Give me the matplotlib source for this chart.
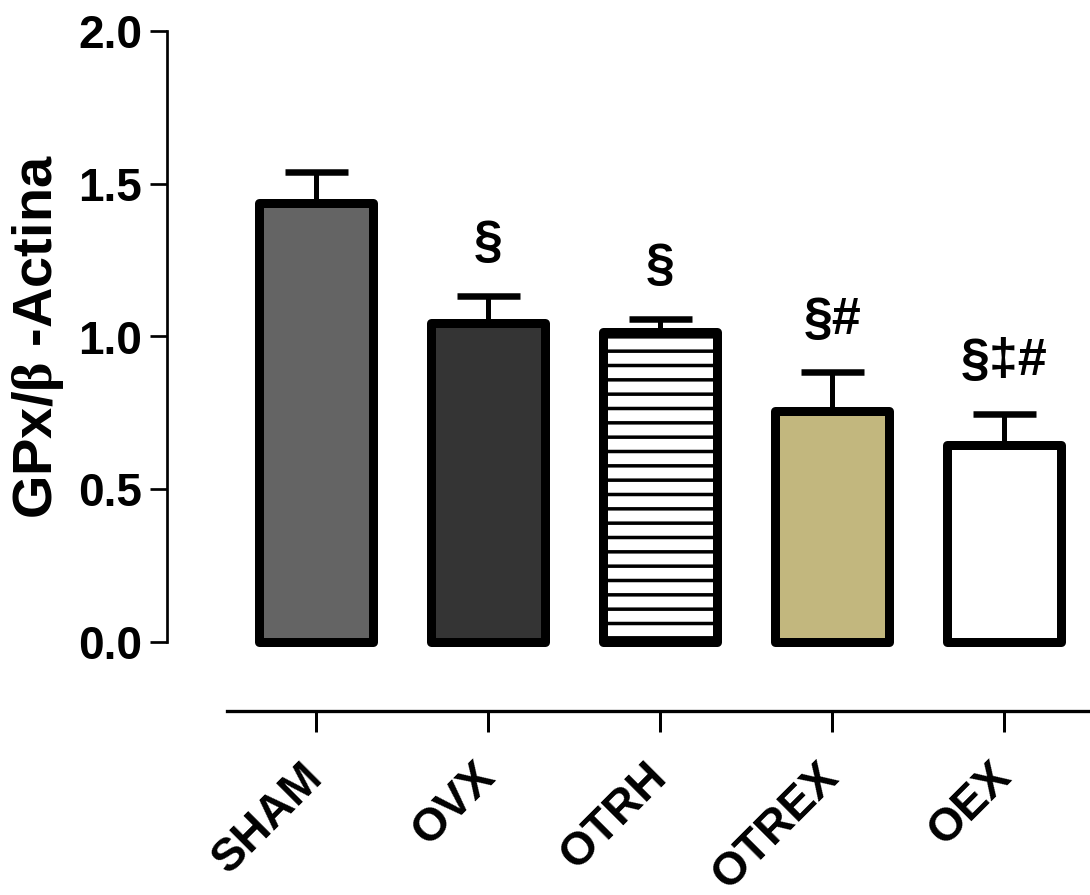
import numpy as np
import matplotlib
matplotlib.use("Agg")
import matplotlib.pyplot as plt
from matplotlib.ticker import FormatStrFormatter

# work in pixels, convert to points
DPI = 86


def px(v):
    return v * 72 / DPI


# ─────────────────────────────────────────────
# DATA
# ─────────────────────────────────────────────

groups = ["SHAM", "OVX", "OTRH", "OTREX", "OEX"]
means = [1.435, 1.042, 1.013, 0.755, 0.645]
sems = [0.103, 0.090, 0.044, 0.127, 0.102]
marks = ["", "§", "§", "§#", "§‡#"]

face_colors = ["#646464", "#343434", "white", "#c2b77e", "white"]
hatches = [None, None, "-", None, None]

# ─────────────────────────────────────────────
# STYLE
# ─────────────────────────────────────────────

plt.rcParams["font.family"] = "Liberation Sans"
plt.rcParams["font.weight"] = "bold"
plt.rcParams["mathtext.fontset"] = "custom"
plt.rcParams["mathtext.rm"] = "Liberation Serif"
plt.rcParams["hatch.linewidth"] = px(3.5)
plt.rcParams["hatch.color"] = "black"

fig = plt.figure(figsize=(1090.3 / DPI, 895.3 / DPI), dpi=DPI)
ax = fig.add_axes([167 / 1090, (895 - 642) / 895, 1 - 167 / 1090, 611 / 895])

x = np.arange(len(groups))

# only the upper half of the error bar is shown
ax.errorbar(x, means, yerr=[np.zeros(len(groups)), sems], fmt="none",
            ecolor="black", elinewidth=px(5), capsize=px(31.5),
            capthick=px(6.5), zorder=1)

bars = ax.bar(x, means, width=0.663, color=face_colors, edgecolor="black",
              linewidth=px(9), joinstyle="round", zorder=2, clip_on=False)
for b, h in zip(bars, hatches):
    if h:
        b.set_hatch(h)

for xi, m, s, t in zip(x, means, sems, marks):
    if t:
        ax.annotate(t, (xi, m + s), xytext=(0, px(28)),
                    textcoords="offset points", ha="center", va="bottom",
                    fontsize=px(52), fontweight="bold")

# ─────────────────────────────────────────────
# AXES
# ─────────────────────────────────────────────

ax.set_xlim(-0.866, 4.5)
ax.set_ylim(0, 2)
ax.set_yticks([0, 0.5, 1.0, 1.5, 2.0])
ax.yaxis.set_major_formatter(FormatStrFormatter("%.1f"))

ax.spines[["top", "right"]].set_visible(False)
ax.spines["left"].set_linewidth(px(2.7))
ax.spines["bottom"].set_position(("outward", px(69)))
ax.spines["bottom"].set_bounds(-0.517, 4.5)
ax.spines["bottom"].set_linewidth(px(3.3))

ax.tick_params(axis="y", length=px(17), width=px(2.7), pad=px(8),
               labelsize=px(46))
ax.tick_params(axis="x", length=px(21), width=px(3), pad=px(38),
               labelsize=px(46))

ax.set_xticks(x, groups)
for lab in ax.get_xticklabels():
    lab.set_rotation(45)
    lab.set_ha("right")
    lab.set_va("center")
    lab.set_rotation_mode("anchor")

ax.set_ylabel(r"GPx/$\mathrm{\beta}$ -Actina", fontsize=px(56),
              fontweight="bold", labelpad=px(12))

fig.savefig("out.png", dpi=DPI)
print("✓ out.png saved")
